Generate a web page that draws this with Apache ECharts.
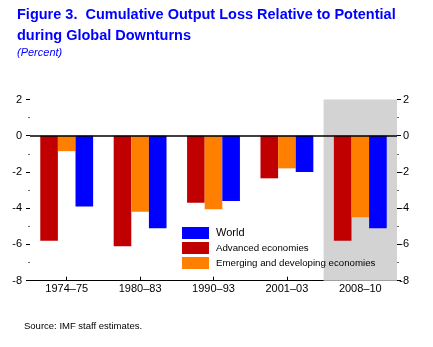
<!DOCTYPE html>
<html>
<head>
<meta charset="utf-8">
<script src="https://cdn.jsdelivr.net/npm/echarts@6/dist/echarts.min.js"></script>
<style>
  html, body { margin: 0; padding: 0; background: #fff; }
  #chart { width: 433px; height: 347px; }
</style>
</head>
<body>
<div id="chart"></div>
<script>
// Downturn periods on the category axis
const categories = ['1974–75', '1980–83', '1990–93', '2001–03', '2008–10'];

// Cumulative output loss relative to potential, percent
const advanced = [-5.8, -6.1, -3.7, -2.35, -5.8];
const emerging = [-0.85, -4.2, -4.05, -1.8, -4.5];
const world = [-3.9, -5.1, -3.6, -2.0, -5.1];

// Value axis range and step
const yMin = -8;
const yMax = 2;
const yStep = 2;

// Period highlighted with a grey background
const shadedPeriod = '2008–10';

const FONT = "'Liberation Sans', Arial, sans-serif";
const RED = '#c00000';
const ORANGE = '#ff8000';
const BLUE = '#0000ff';
const TITLE_BLUE = '#0000ff';

const chart = echarts.init(document.getElementById('chart'), null, { renderer: 'canvas' });

const shadeIdx = categories.indexOf(shadedPeriod);

function valueAxis(position, align, margin) {
  return {
    type: 'value',
    position: position,
    min: yMin,
    max: yMax,
    interval: yStep,
    axisLine: { show: false },
    axisTick: { show: true, length: 4, lineStyle: { color: '#000', width: 1 } },
    minorTick: { show: true, splitNumber: 2, length: 2, lineStyle: { color: '#666', width: 1 } },
    splitLine: { show: false },
    axisLabel: {
      color: '#000',
      fontFamily: FONT,
      fontSize: 11,
      align: align,
      margin: margin
    }
  };
}

const option = {
  animation: false,
  backgroundColor: '#fff',
  textStyle: { fontFamily: FONT },
  grid: {
    left: 30,
    right: 36,
    top: 99.5,
    bottom: 66.3,
    containLabel: false,
    outerBoundsMode: 'none'
  },
  graphic: [
    {
      type: 'text', left: 17, top: 7,
      style: {
        text: 'Figure 3.  Cumulative Output Loss Relative to Potential',
        font: 'bold 14.5px ' + FONT, fill: TITLE_BLUE
      }
    },
    {
      type: 'text', left: 17, top: 28.5,
      style: {
        text: 'during Global Downturns',
        font: 'bold 14.5px ' + FONT, fill: TITLE_BLUE
      }
    },
    {
      type: 'text', left: 17, top: 47.5,
      style: {
        text: '(Percent)',
        font: 'italic 11px ' + FONT, fill: TITLE_BLUE
      }
    },
    {
      type: 'text', left: 24, top: 321,
      style: {
        text: 'Source: IMF staff estimates.',
        font: '9.5px ' + FONT, fill: '#000'
      }
    }
  ],
  legend: {
    orient: 'vertical',
    left: 182,
    top: 227,
    padding: 0,
    itemWidth: 27,
    itemHeight: 12,
    itemGap: 3,
    icon: 'rect',
    selectedMode: false,
    data: ['World', 'Advanced economies', 'Emerging and developing economies'],
    formatter: function (name) {
      return name === 'World' ? '{w|' + name + '}' : '{s|' + name + '}';
    },
    textStyle: {
      color: '#000',
      fontFamily: FONT,
      padding: [0, 0, 0, 2],
      rich: {
        w: { fontSize: 11, lineHeight: 12, fontFamily: FONT, color: '#000' },
        s: { fontSize: 9.7, lineHeight: 12, fontFamily: FONT, color: '#000' }
      }
    }
  },
  xAxis: [
    {
      type: 'category',
      data: categories,
      position: 'bottom',
      axisLine: { show: true, onZero: false, lineStyle: { color: '#000', width: 1 } },
      axisTick: { show: true, inside: true, alignWithLabel: true, length: 4, lineStyle: { color: '#000' } },
      axisLabel: { color: '#000', fontFamily: FONT, fontSize: 11, margin: 3, interval: 0 },
      splitLine: { show: false }
    },
    {
      type: 'value',
      min: 0,
      max: categories.length,
      show: false
    }
  ],
  yAxis: [
    valueAxis('left', 'right', 8),
    valueAxis('right', 'right', 12)
  ],
  series: [
    {
      type: 'line',
      xAxisIndex: 1,
      yAxisIndex: 0,
      data: [],
      z: 0,
      silent: true,
      markArea: {
        silent: true,
        itemStyle: { color: '#d3d3d3' },
        data: [[{ xAxis: shadeIdx }, { xAxis: shadeIdx + 1 }]]
      }
    },
    {
      name: 'Advanced economies',
      type: 'bar',
      data: advanced,
      itemStyle: { color: RED },
      barGap: '0%',
      barCategoryGap: '28%'
    },
    {
      name: 'Emerging and developing economies',
      type: 'bar',
      data: emerging,
      itemStyle: { color: ORANGE },
      barGap: '0%',
      barCategoryGap: '28%'
    },
    {
      name: 'World',
      type: 'bar',
      data: world,
      itemStyle: { color: BLUE },
      barGap: '0%',
      barCategoryGap: '28%',
      markLine: {
        silent: true,
        symbol: 'none',
        label: { show: false },
        lineStyle: { color: '#000', width: 1.5, type: 'solid' },
        data: [{ yAxis: 0 }]
      }
    }
  ]
};

chart.setOption(option);
</script>
</body>
</html>
